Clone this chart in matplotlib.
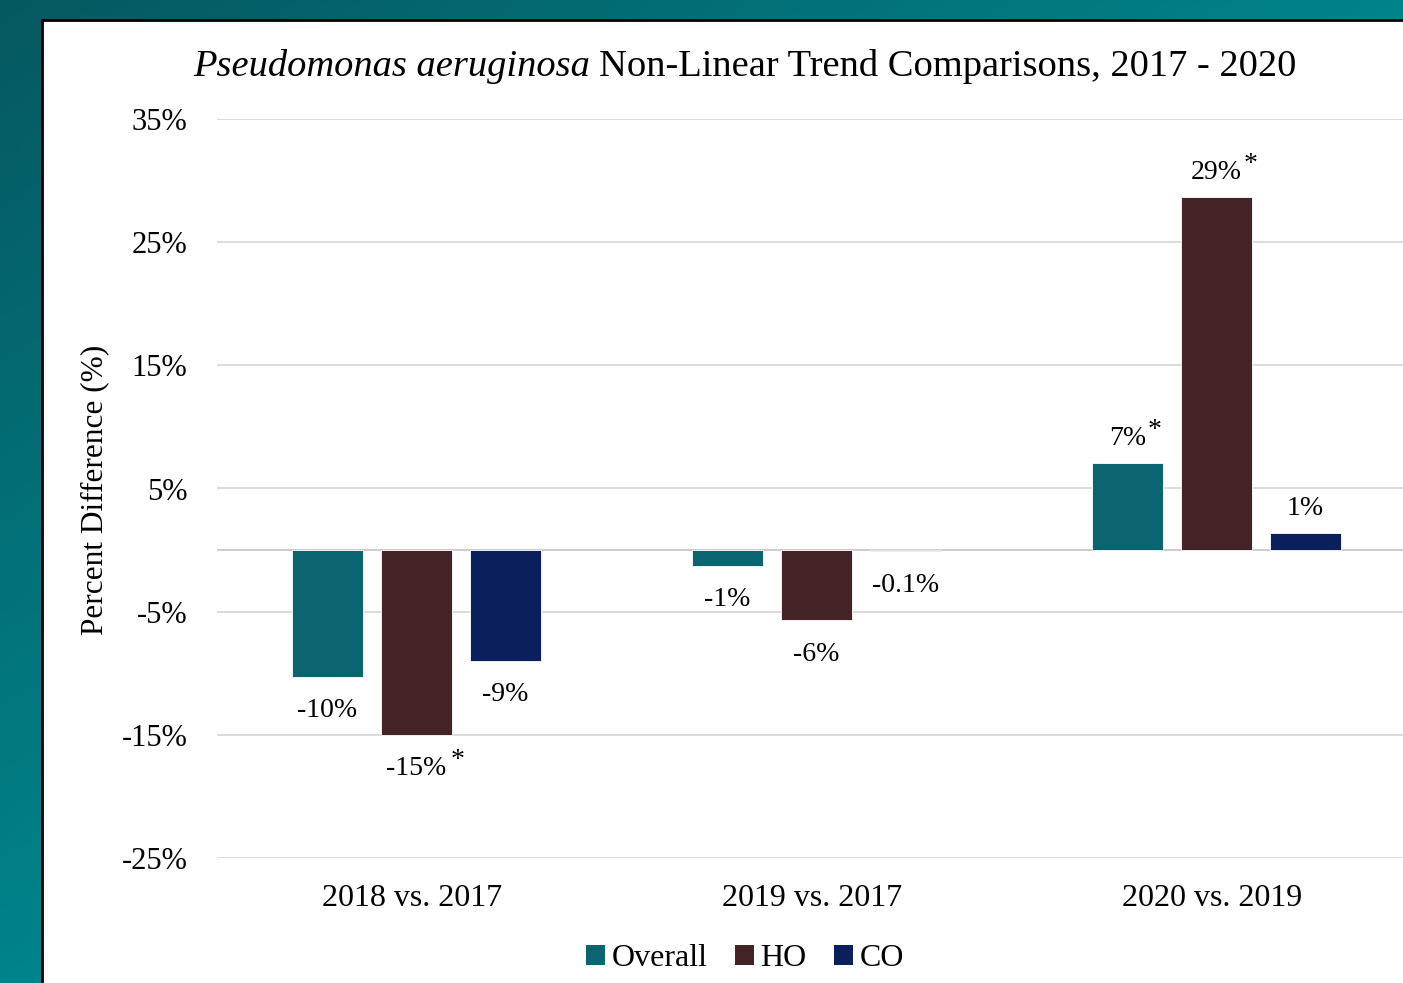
import numpy as np
import matplotlib
matplotlib.use('Agg')
import matplotlib.pyplot as plt
from matplotlib.patches import Rectangle, Patch
from matplotlib.transforms import ScaledTranslation

plt.rcParams['font.family'] = ['Liberation Serif', 'DejaVu Serif']

# data
categories = ['2018 vs. 2017', '2019 vs. 2017', '2020 vs. 2019']
series = ['Overall', 'HO', 'CO']
overall = [-10.3, -1.3, 7.1]
ho = [-15.0, -5.7, 28.7]
co = [-9.0, -0.1, 1.4]
labels = {
    'Overall': ['-10%', '-1%', '7%'],
    'HO': ['-15%', '-6%', '29%'],
    'CO': ['-9%', '-0.1%', '1%'],
}
stars = {
    'Overall': [False, False, True],
    'HO': [True, False, True],
    'CO': [False, False, False],
}
yticks = [-25, -15, -5, 5, 15, 25, 35]
colors = {'Overall': '#0b6570', 'HO': '#432326', 'CO': '#0a1f5c'}
values = {'Overall': overall, 'HO': ho, 'CO': co}

W, H = 1403, 983
fig = plt.figure(figsize=(W / 100, H / 100), dpi=100)

# teal gradient background
bg = fig.add_axes([0, 0, 1, 1], zorder=-10)
gx, gy = np.meshgrid(np.linspace(0, 1, 300), np.linspace(0, 1, 220))
t = np.clip((gx + gy) * 0.9, 0, 1)
dark = np.array([0x06, 0x58, 0x60]) / 255
light = np.array([0x00, 0x88, 0x90]) / 255
img = dark[None, None, :] * (1 - t[..., None]) + light[None, None, :] * t[..., None]
bg.imshow(img, aspect='auto', extent=[0, 1, 1, 0], origin='upper')
bg.set_xlim(0, 1); bg.set_ylim(1, 0)
bg.axis('off')

# white chart panel
fig.patches.append(Rectangle((42 / W, -0.05), 1.1, (H - 20) / H + 0.05,
                             transform=fig.transFigure, facecolor='white',
                             edgecolor='black', linewidth=2, zorder=-5))

ax = fig.add_axes([216.5 / W, (H - 858) / H, 1200 / W, (858 - 119) / H])
ax.set_facecolor('none')

x = np.arange(len(categories))
step = 89 / 400
width = 71 / 400
for i, s in enumerate(series):
    pos = x + (i - 1) * step
    ax.bar(pos, values[s], width, color=colors[s], edgecolor='white',
           linewidth=0.6, zorder=3, label=s)
    for p, v, lab, st in zip(pos, values[s], labels[s], stars[s]):
        off = 13 if v >= 0 else -29
        txt = ax.annotate(lab, xy=(p, v), xytext=(0, off), textcoords='offset points',
                          ha='center', va='baseline', fontsize=20, zorder=4)
        if st:
            dx = 3 if v < 0 else 1
            ax.annotate('*', xy=(1, 0), xycoords=txt, xytext=(dx, 5.5),
                        textcoords='offset points', ha='left', va='bottom',
                        fontsize=20)

ax.set_xlim(-0.5, 2.5)
ax.set_ylim(-25, 35)
ax.set_yticks(yticks)
ax.set_yticklabels([f'{v}%' for v in yticks])
ax.set_xticks(x)
ax.set_xticklabels(categories)
ax.tick_params(axis='y', length=0, pad=21, labelsize=22)
ax.tick_params(axis='x', length=0, pad=19, labelsize=23)
shift = ScaledTranslation(-4 / 100, 0, fig.dpi_scale_trans)
for lab in ax.get_xticklabels():
    lab.set_transform(lab.get_transform() + shift)
ax.grid(axis='y', color='#d9d9d9', linewidth=1.3, zorder=0)
ax.axhline(0, color='#c8c8c8', linewidth=1.3, zorder=1)
for sp in ax.spines.values():
    sp.set_visible(False)

fig.text(95 / W, 1 - 490 / H, 'Percent Difference (%)', rotation=90,
         ha='center', va='center', fontsize=22.5)

fig.text(590 / W, 1 - 66 / H, 'Pseudomonas aeruginosa', style='italic',
         ha='right', va='center', fontsize=27.7)
fig.text(599 / W, 1 - 66 / H, 'Non-Linear Trend Comparisons, 2017 - 2020',
         ha='left', va='center', fontsize=27.7)

handles = [Patch(facecolor=colors[s], label=s) for s in series]
fig.legend(handles=handles, loc='center', bbox_to_anchor=(745 / W, 24 / H),
           ncol=3, frameon=False, fontsize=23, handlelength=0.6,
           handleheight=0.6, handletextpad=0.2, columnspacing=0.85,
           borderaxespad=0, borderpad=0)

fig.savefig('out.png', dpi=100)
